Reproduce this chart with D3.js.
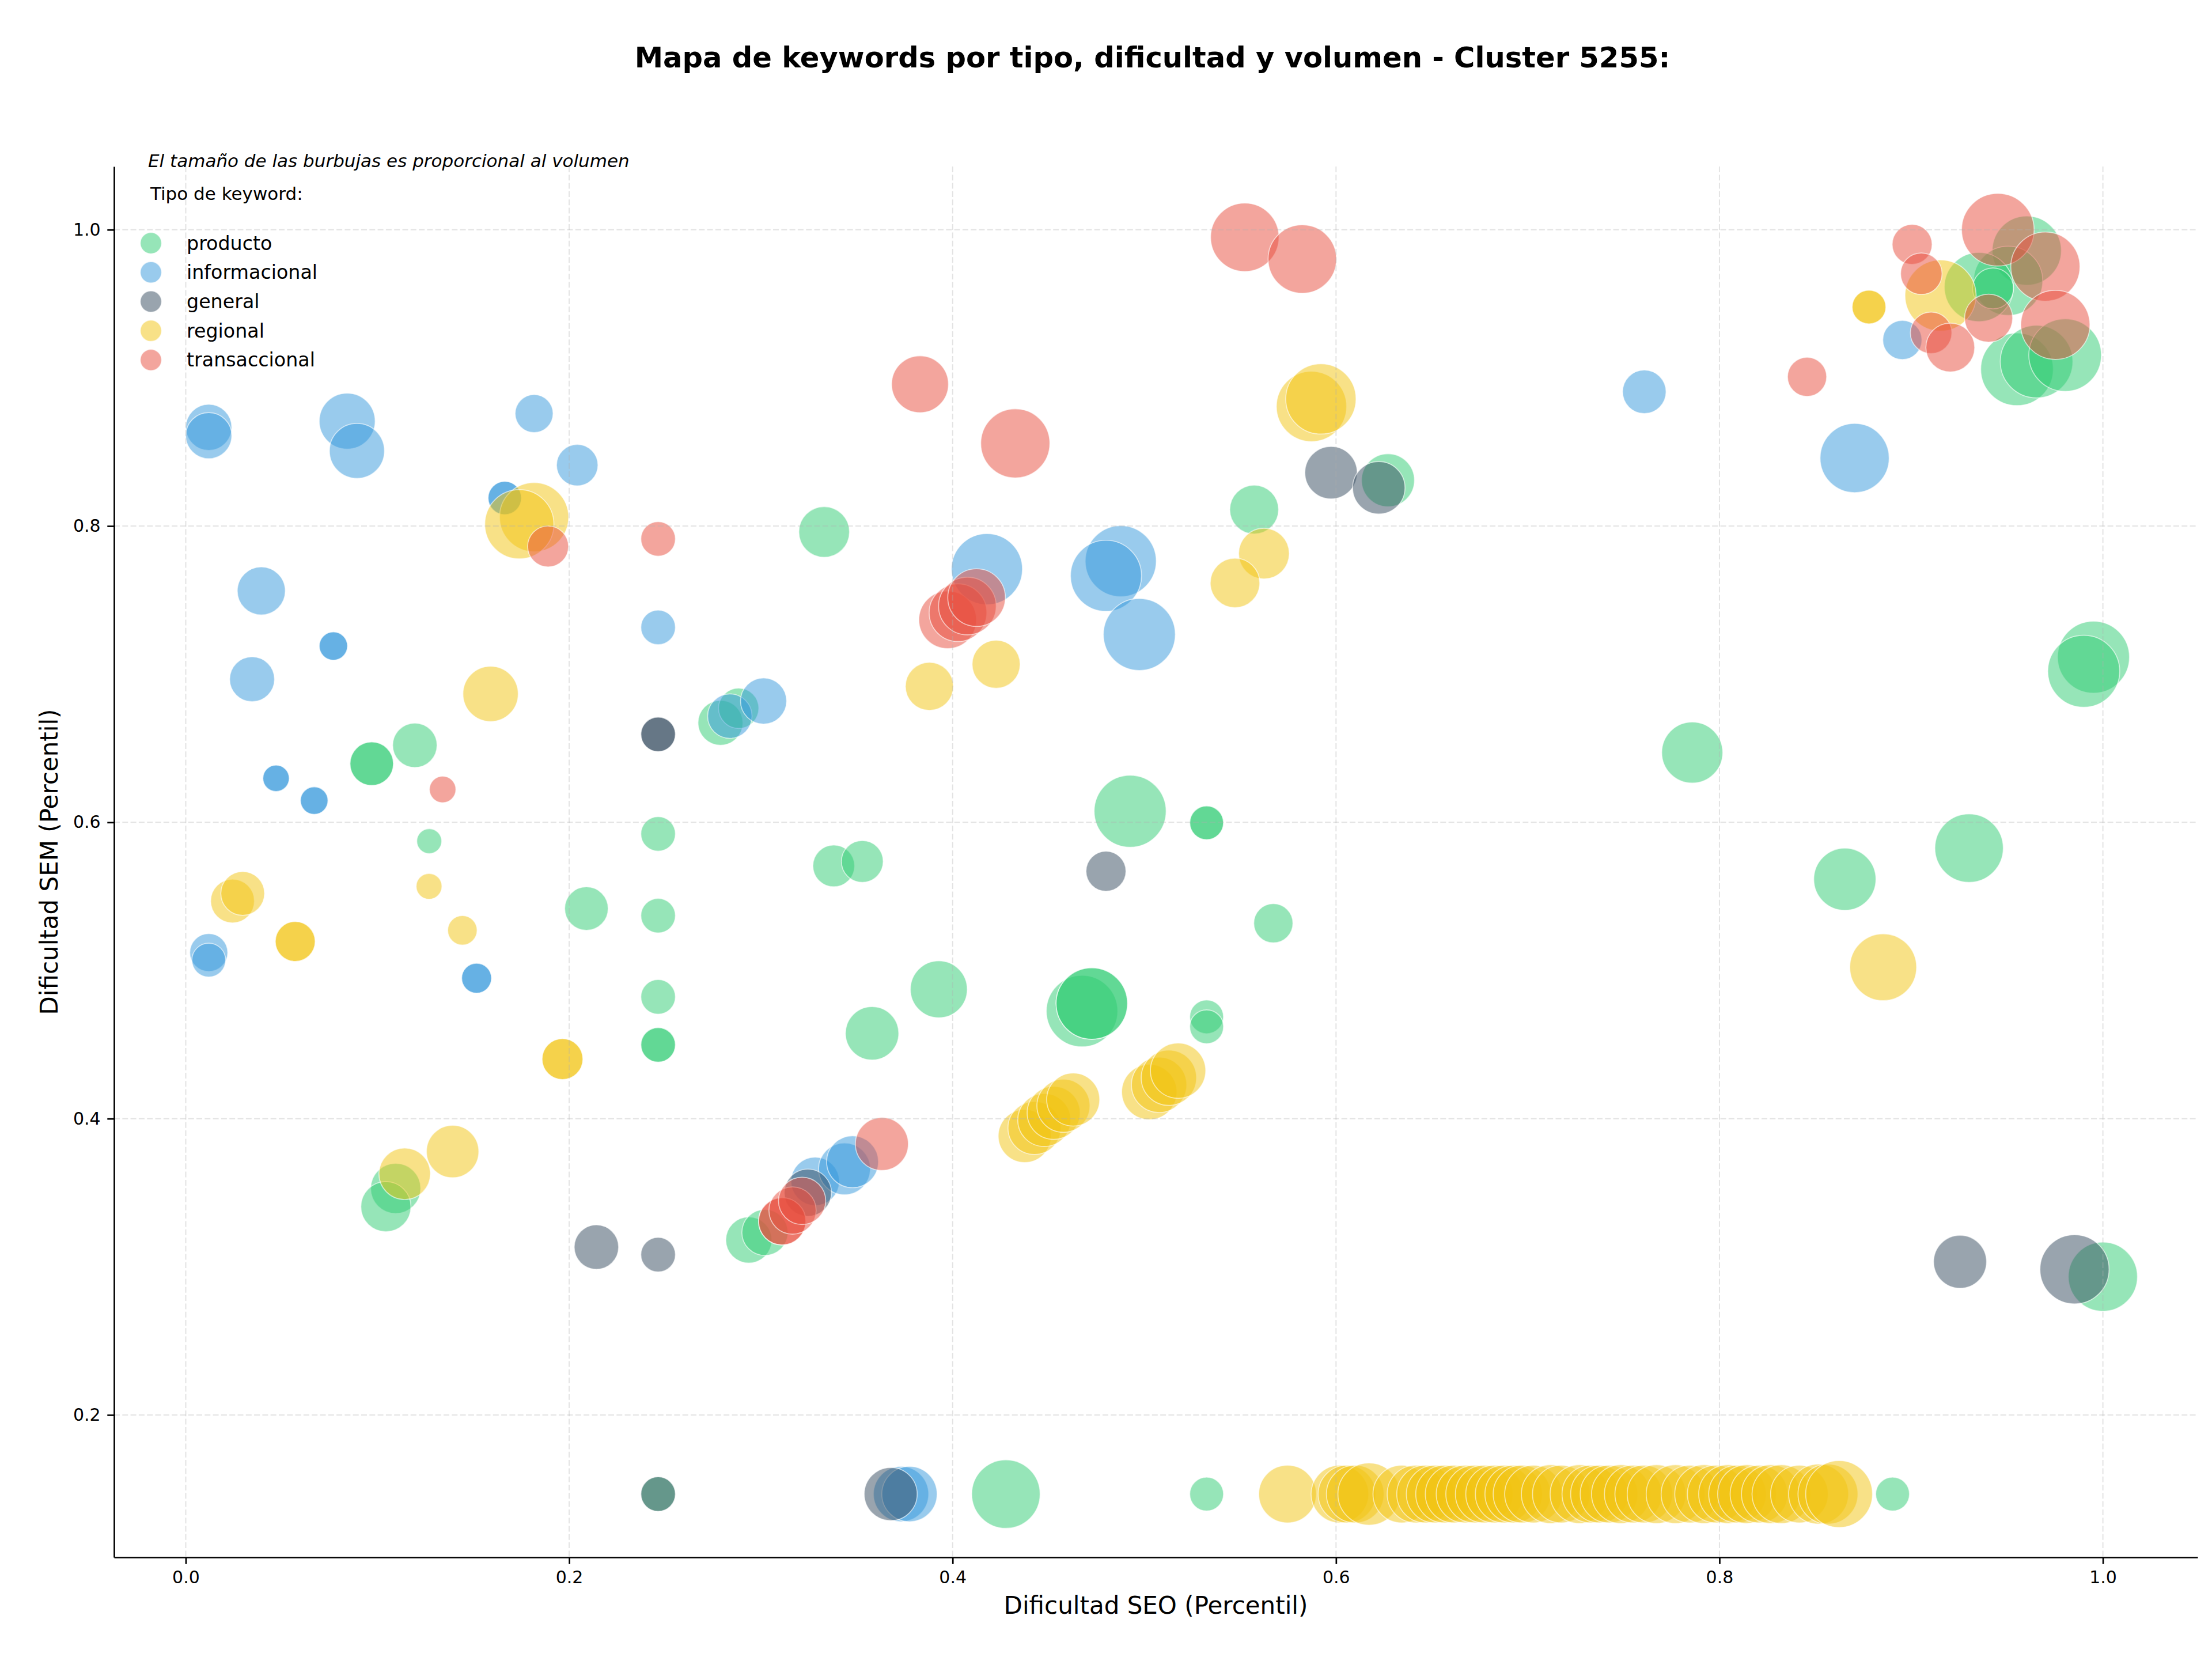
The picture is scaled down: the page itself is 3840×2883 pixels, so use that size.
<!DOCTYPE html>
<html>
<head>
<meta charset="utf-8">
<script src="https://cdn.jsdelivr.net/npm/d3@7"></script>
<style>
    body { margin: 0; background: #ffffff; }
    text { font-family: 'DejaVu Sans', sans-serif; }
</style>
</head>
<body>
<svg id="drawing_region"></svg>
<script>
const tipos = ['producto', 'informacional', 'general', 'regional', 'transaccional'];
const colores = ['#2ecc71', '#3498db', '#34495e', '#f1c40f', '#e74c3c'];
const xticks = [0.0, 0.2, 0.4, 0.6, 0.8, 1.0];
const yticks = [0.2, 0.4, 0.6, 0.8, 1.0];

// [dificultad SEO, dificultad SEM, volumen]
const producto = [
    [0.2789, 0.6672, 380], [0.2884, 0.6770, 306], [0.0970, 0.6396, 357], [0.0970, 0.6396, 357],
    [0.1195, 0.6520, 372], [0.1270, 0.5873, 117], [0.2464, 0.5922, 225],
    [0.5573, 0.8111, 449], [0.6271, 0.8309, 529], [0.3330, 0.7960, 484], [0.4926, 0.6075, 976],
    [0.5325, 0.5997, 215], [0.5325, 0.5997, 215],
    [0.9603, 0.9859, 900], [0.9506, 0.9655, 900], [0.9353, 0.9613, 900], [0.9427, 0.9604, 315],
    [0.9552, 0.9058, 992], [0.9654, 0.9110, 992], [0.9803, 0.9154, 992],
    [0.9951, 0.7115, 976], [0.9900, 0.7020, 976], [0.7858, 0.6471, 702], [0.9302, 0.5826, 882],
    [0.2090, 0.5418, 357], [0.2464, 0.5370, 225], [0.2464, 0.4822, 225],
    [0.2464, 0.4498, 225], [0.2464, 0.4498, 225],
    [0.1095, 0.3529, 473], [0.1044, 0.3406, 473], [0.2464, 0.1466, 225],
    [0.2937, 0.3181, 400], [0.3021, 0.3232, 400],
    [0.3380, 0.5706, 329], [0.3529, 0.5736, 329], [0.5673, 0.5319, 289],
    [0.3928, 0.4873, 610], [0.3580, 0.4576, 536],
    [0.4675, 0.4726, 961], [0.4726, 0.4777, 961], [0.4726, 0.4777, 961],
    [0.5325, 0.4687, 215], [0.5325, 0.4620, 215],
    [0.4278, 0.1466, 882], [0.5325, 0.1466, 215],
    [0.8654, 0.5616, 729], [1.0000, 0.2933, 900], [0.8903, 0.1466, 215]
];

const informacional = [
    [0.0120, 0.8666, 400], [0.0120, 0.8610, 400], [0.0842, 0.8708, 590], [0.0893, 0.8507, 571],
    [0.1817, 0.8759, 272], [0.2042, 0.8411, 324], [0.1664, 0.8189, 210], [0.1664, 0.8189, 210],
    [0.0394, 0.7562, 435], [0.2464, 0.7316, 225], [0.0770, 0.7190, 152], [0.0770, 0.7190, 152],
    [0.0346, 0.6966, 380], [0.2838, 0.6717, 372], [0.3014, 0.6819, 400],
    [0.0471, 0.6297, 132], [0.0471, 0.6297, 132], [0.0670, 0.6147, 144], [0.0670, 0.6147, 144],
    [0.4179, 0.7709, 951], [0.4877, 0.7763, 951], [0.4800, 0.7664, 951], [0.4974, 0.7268, 976],
    [0.7608, 0.8906, 357], [0.8705, 0.8459, 900], [0.8954, 0.9256, 289],
    [0.0120, 0.5121, 272], [0.0120, 0.5070, 215], [0.1517, 0.4948, 169], [0.1517, 0.4948, 169],
    [0.3283, 0.3577, 441], [0.3436, 0.3661, 506], [0.3478, 0.3709, 506],
    [0.3731, 0.1466, 576], [0.3775, 0.1466, 576]
];

const general = [
    [0.2464, 0.6594, 225], [0.2464, 0.6594, 225], [0.5974, 0.8360, 517], [0.6223, 0.8258, 517],
    [0.4800, 0.5670, 301], [0.2142, 0.3133, 372], [0.2464, 0.3082, 225], [0.2464, 0.1466, 225],
    [0.3245, 0.3500, 420], [0.3677, 0.1466, 529], [0.9255, 0.3034, 529], [0.9852, 0.2983, 900]
];

const regional = [
    [0.1817, 0.8060, 900], [0.1740, 0.8012, 900], [0.1590, 0.6867, 576],
    [0.5872, 0.8807, 930], [0.5921, 0.8858, 930], [0.5624, 0.7814, 484], [0.5473, 0.7616, 462],
    [0.4227, 0.7067, 435], [0.3879, 0.6918, 435], [0.8780, 0.9478, 215], [0.8780, 0.9478, 215],
    [0.9153, 0.9556, 951], [0.0244, 0.5469, 361], [0.0297, 0.5520, 361],
    [0.0571, 0.5196, 301], [0.0571, 0.5196, 301], [0.1269, 0.5568, 125], [0.1443, 0.5271, 163],
    [0.1965, 0.4402, 315], [0.1965, 0.4402, 315], [0.1392, 0.3778, 517], [0.1142, 0.3628, 499],
    [0.4376, 0.3883, 529], [0.4427, 0.3937, 529], [0.4478, 0.3991, 529],
    [0.4527, 0.4039, 529], [0.4578, 0.4087, 529], [0.4629, 0.4129, 529],
    [0.5026, 0.4180, 576], [0.5077, 0.4228, 576], [0.5128, 0.4276, 576], [0.5176, 0.4324, 576],
    [0.8854, 0.5022, 841], [0.5747, 0.1466, 625],
    [0.6020, 0.1466, 625], [0.6057, 0.1466, 625], [0.6100, 0.1466, 625], [0.6172, 0.1466, 729],
    [0.6343, 0.1466, 625], [0.6417, 0.1466, 625], [0.6467, 0.1466, 625], [0.6517, 0.1466, 625],
    [0.6566, 0.1466, 625], [0.6616, 0.1466, 625], [0.6673, 0.1466, 625], [0.6723, 0.1466, 625],
    [0.6773, 0.1466, 625], [0.6827, 0.1466, 625], [0.6877, 0.1466, 625], [0.6927, 0.1466, 625],
    [0.6970, 0.1466, 625], [0.7030, 0.1466, 625], [0.7120, 0.1466, 650], [0.7175, 0.1466, 625],
    [0.7270, 0.1466, 650], [0.7329, 0.1466, 625], [0.7374, 0.1466, 625], [0.7424, 0.1466, 625],
    [0.7486, 0.1466, 650], [0.7550, 0.1466, 625], [0.7605, 0.1466, 625], [0.7672, 0.1466, 650],
    [0.7771, 0.1466, 650], [0.7846, 0.1466, 625], [0.7920, 0.1466, 650], [0.7983, 0.1466, 625],
    [0.8045, 0.1466, 650], [0.8094, 0.1466, 625], [0.8144, 0.1466, 650], [0.8206, 0.1466, 625],
    [0.8268, 0.1466, 650], [0.8323, 0.1466, 650], [0.8417, 0.1466, 625], [0.8517, 0.1466, 676],
    [0.8566, 0.1466, 676], [0.8624, 0.1466, 841]
];

const transaccional = [
    [0.1890, 0.7862, 315], [0.2464, 0.7913, 225], [0.1340, 0.6222, 132],
    [0.5524, 0.9949, 882], [0.5824, 0.9802, 882], [0.3830, 0.8957, 610], [0.4327, 0.8558, 900],
    [0.3974, 0.7367, 625], [0.4028, 0.7415, 625], [0.4077, 0.7460, 625], [0.4125, 0.7517, 625],
    [0.8457, 0.9007, 289], [0.9005, 0.9901, 301], [0.9053, 0.9703, 324], [0.9104, 0.9304, 324],
    [0.9204, 0.9205, 449], [0.9452, 1.0000, 992], [0.9700, 0.9751, 900], [0.9404, 0.9403, 435],
    [0.9752, 0.9358, 900],
    [0.3111, 0.3307, 420], [0.3111, 0.3307, 420], [0.3165, 0.3380, 420], [0.3215, 0.3445, 420],
    [0.3631, 0.3829, 529]
];

const series = [producto, informacional, general, regional, transaccional];

class BubbleChart {

    constructor(config, data) {
        this.config = {
            parent: config.parent,
            width: config.width || 3840,
            height: config.height || 2883,
            margin: config.margin || { top: 289, right: 25, bottom: 180, left: 198 },
            title: config.title || '',
            xlabel: config.xlabel || '',
            ylabel: config.ylabel || ''
        }
        this.data = data;
        this.init();
    }

    init() {
        let self = this;
        let margin = self.config.margin;

        self.svg = d3.select(self.config.parent)
            .attr('width', self.config.width)
            .attr('height', self.config.height);

        self.inner_width = self.config.width - margin.left - margin.right;
        self.inner_height = self.config.height - margin.top - margin.bottom;

        self.chart = self.svg.append('g')
            .attr('transform', `translate(${margin.left}, ${margin.top})`);

        self.xscale = d3.scaleLinear().range([0, self.inner_width]);
        self.yscale = d3.scaleLinear().range([self.inner_height, 0]);
        self.rscale = d3.scaleSqrt().domain([0, 1000]).range([0, 63.25]);

        self.xaxis = d3.axisBottom(self.xscale)
            .tickValues(xticks)
            .tickFormat(d3.format('.1f'))
            .tickSize(11.7)
            .tickPadding(11.7)
            .tickSizeOuter(0);

        self.yaxis = d3.axisLeft(self.yscale)
            .tickValues(yticks)
            .tickFormat(d3.format('.1f'))
            .tickSize(11.7)
            .tickPadding(11.7)
            .tickSizeOuter(0);

        self.bubbles_group = self.chart.append('g');
        self.grid_group = self.chart.append('g');

        self.xaxis_group = self.chart.append('g')
            .attr('transform', `translate(0, ${self.inner_height})`);
        self.yaxis_group = self.chart.append('g');

        self.svg.append('text')
            .attr('x', margin.left + self.inner_width / 2 - 6)
            .attr('y', 117)
            .attr('text-anchor', 'middle')
            .attr('font-size', 49.6)
            .attr('font-weight', 'bold')
            .text(self.config.title);

        self.svg.append('text')
            .attr('x', margin.left + self.inner_width / 2)
            .attr('y', 2801)
            .attr('text-anchor', 'middle')
            .attr('font-size', 42)
            .text(self.config.xlabel);

        self.svg.append('text')
            .attr('transform', `translate(100, ${margin.top + self.inner_height / 2}) rotate(-90)`)
            .attr('text-anchor', 'middle')
            .attr('font-size', 42)
            .text(self.config.ylabel);

        self.svg.append('text')
            .attr('x', 257)
            .attr('y', 290)
            .attr('font-size', 31)
            .attr('font-style', 'italic')
            .text('El tamaño de las burbujas es proporcional al volumen');
    }

    update() {
        let self = this;

        self.xvalue = d => d[0];
        self.yvalue = d => d[1];
        self.rvalue = d => d[2];

        const all = self.data.flat();
        const xext = d3.extent(all, self.xvalue);
        const yext = d3.extent(all, self.yvalue);
        const xpad = (xext[1] - xext[0]) * 0.05;
        const ypad = (yext[1] - yext[0]) * 0.05;
        self.xscale.domain([xext[0] - xpad, xext[1] + xpad]);
        self.yscale.domain([yext[0] - ypad, yext[1] + ypad]);

        self.render();
    }

    render() {
        let self = this;

        self.bubbles_group.selectAll('g')
            .data(self.data)
            .join('g')
            .attr('fill', (d, i) => colores[i])
            .selectAll('circle')
            .data(d => d)
            .join('circle')
            .attr('cx', d => self.xscale(self.xvalue(d)))
            .attr('cy', d => self.yscale(self.yvalue(d)))
            .attr('r', d => self.rscale(self.rvalue(d)))
            .attr('fill-opacity', 0.5)
            .attr('stroke', '#ffffff')
            .attr('stroke-opacity', 0.6)
            .attr('stroke-width', 1.7);

        const grid_style = g => g
            .attr('stroke', '#b0b0b0')
            .attr('stroke-opacity', 0.35)
            .attr('stroke-width', 2)
            .attr('stroke-dasharray', '10,4.3');

        self.grid_group.selectAll('.vgrid')
            .data(xticks)
            .join('line')
            .attr('class', 'vgrid')
            .attr('x1', d => self.xscale(d))
            .attr('x2', d => self.xscale(d))
            .attr('y1', 0)
            .attr('y2', self.inner_height)
            .call(grid_style);

        self.grid_group.selectAll('.hgrid')
            .data(yticks)
            .join('line')
            .attr('class', 'hgrid')
            .attr('x1', 0)
            .attr('x2', self.inner_width)
            .attr('y1', d => self.yscale(d))
            .attr('y2', d => self.yscale(d))
            .call(grid_style);

        self.xaxis_group.call(self.xaxis);
        self.yaxis_group.call(self.yaxis);

        self.chart.selectAll('.domain, .tick line')
            .attr('stroke', '#000')
            .attr('stroke-width', 2.7);
        self.chart.selectAll('.tick text')
            .attr('fill', '#000')
            .attr('font-size', 30)
            .attr('font-family', "'DejaVu Sans', sans-serif");

        // leyenda
        const legend = self.svg.append('g');
        legend.append('text')
            .attr('x', 261)
            .attr('y', 347)
            .attr('font-size', 31)
            .text('Tipo de keyword:');

        const items = legend.selectAll('.item')
            .data(tipos)
            .join('g')
            .attr('class', 'item')
            .attr('transform', (d, i) => `translate(262, ${422 + i * 50.7})`);

        items.append('circle')
            .attr('r', 18.5)
            .attr('fill', (d, i) => colores[i])
            .attr('fill-opacity', 0.5)
            .attr('stroke', '#ffffff')
            .attr('stroke-opacity', 0.6)
            .attr('stroke-width', 1.7);

        items.append('text')
            .attr('x', 62)
            .attr('y', 11.6)
            .attr('font-size', 33.3)
            .text(d => d);
    }
}

const chart = new BubbleChart({
    parent: '#drawing_region',
    width: 3840,
    height: 2883,
    title: 'Mapa de keywords por tipo, dificultad y volumen - Cluster 5255:',
    xlabel: 'Dificultad SEO (Percentil)',
    ylabel: 'Dificultad SEM (Percentil)'
}, series);
chart.update();
</script>
</body>
</html>
